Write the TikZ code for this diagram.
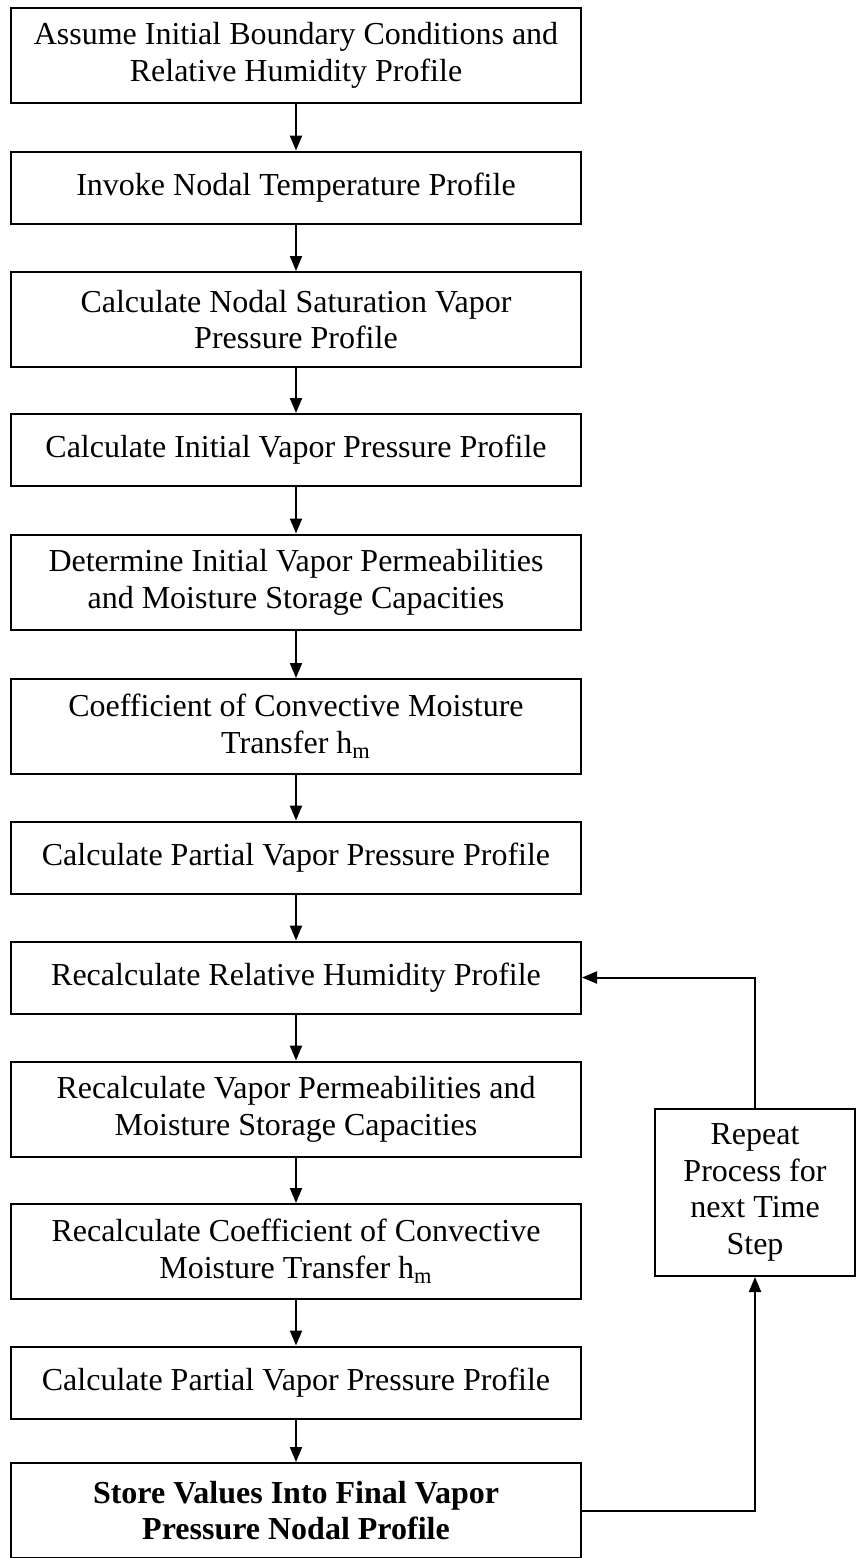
\documentclass[tikz,border=0pt]{standalone}
\usepackage{fontspec}
\setmainfont{Liberation Serif}
\usetikzlibrary{arrows.meta}
\begin{document}
\begin{tikzpicture}[x=0.5pt, y=-0.5pt, font=\fontsize{16}{18.4}\selectfont, line width=1pt, line join=miter, >={Triangle[width=6pt,length=7.5pt]},
    box/.style={draw, align=center, minimum width=285pt, inner sep=0pt},
    oneline/.style={box, minimum height=36pt},
    twoline/.style={box, minimum height=47.5pt}]
            \useasboundingbox (0,0) rectangle (859,1558);
            \node[twoline] (assume) at (296,55) {Assume Initial Boundary Conditions and\\Relative Humidity Profile};
            \node[oneline] (invoke) at (296,187.5) {Invoke Nodal Temperature Profile};
            \node[twoline] (satvap) at (296,319.5) {Calculate Nodal Saturation Vapor\\Pressure Profile};
            \node[oneline] (initvap) at (296,450) {Calculate Initial Vapor Pressure Profile};
            \node[twoline] (initperm) at (296,582) {Determine Initial Vapor Permeabilities\\and Moisture Storage Capacities};
            \node[twoline] (coef) at (296,726.5) {Coefficient of Convective Moisture\\Transfer h\textsubscript{m}};
            \node[oneline] (partvap) at (296,857.5) {Calculate Partial Vapor Pressure Profile};
            \node[oneline] (relhum) at (296,977.5) {Recalculate Relative Humidity Profile};
            \node[twoline] (reperm) at (296,1109) {Recalculate Vapor Permeabilities and\\Moisture Storage Capacities};
            \node[twoline] (recoef) at (296,1251.5) {Recalculate Coefficient of Convective\\Moisture Transfer h\textsubscript{m}};
            \node[oneline] (partvaptwo) at (296,1382.5) {Calculate Partial Vapor Pressure Profile};
            \node[twoline, font=\fontsize{16}{18.4}\selectfont\bfseries] (store) at (296,1510.5) {Store Values Into Final Vapor\\Pressure Nodal Profile};
            \node[box, minimum width=100pt, minimum height=83.5pt] (repeat) at (755,1192.5) {Repeat\\Process for\\next Time\\Step};
            \foreach \a/\b in {assume/invoke, invoke/satvap, satvap/initvap, initvap/initperm, initperm/coef, coef/partvap, partvap/relhum, relhum/reperm, reperm/recoef, recoef/partvaptwo, partvaptwo/store}
                \draw[->] (\a) -- (\b);
            \draw[->] (store.east) -- (store.east -| repeat) -- (repeat.south);
            \draw[->] (repeat.north) |- (relhum.east);
        \end{tikzpicture}
\end{document}
